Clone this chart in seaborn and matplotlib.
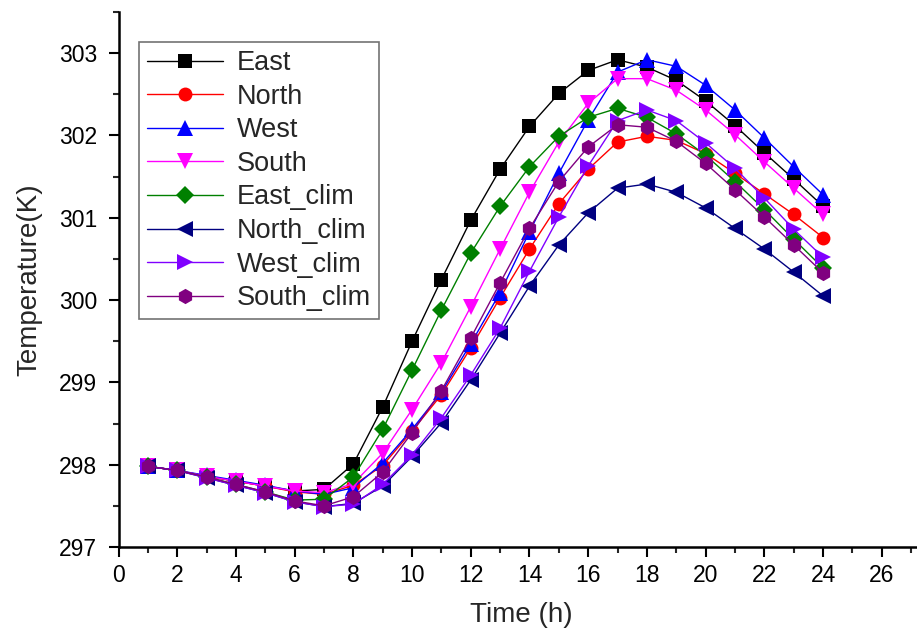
import matplotlib
matplotlib.use("Agg")
import matplotlib.pyplot as plt
import seaborn as sns
import numpy as np
import pandas as pd
from matplotlib.ticker import MultipleLocator

hours = list(range(1, 25))

east = [297.98, 297.93, 297.86, 297.80, 297.74, 297.68, 297.70, 298.01, 298.70, 299.50, 300.25, 300.97,
        301.59, 302.11, 302.51, 302.79, 302.92, 302.83, 302.67, 302.42, 302.12, 301.79, 301.47, 301.14]
north = [297.98, 297.93, 297.86, 297.80, 297.74, 297.67, 297.64, 297.75, 297.99, 298.41, 298.85, 299.42,
         300.03, 300.62, 301.17, 301.59, 301.92, 301.99, 301.94, 301.78, 301.54, 301.29, 301.04, 300.76]
west = [297.98, 297.93, 297.87, 297.81, 297.75, 297.68, 297.64, 297.72, 298.02, 298.43, 298.88, 299.47,
        300.09, 300.83, 301.54, 302.19, 302.77, 302.92, 302.84, 302.61, 302.31, 301.97, 301.62, 301.28]
south = [297.98, 297.93, 297.86, 297.80, 297.74, 297.68, 297.66, 297.77, 298.14, 298.67, 299.24, 299.92,
         300.62, 301.31, 301.92, 302.39, 302.69, 302.69, 302.55, 302.31, 302.01, 301.68, 301.36, 301.04]
east_clim = [297.98, 297.93, 297.85, 297.76, 297.67, 297.57, 297.58, 297.85, 298.43, 299.15, 299.88, 300.57,
             301.14, 301.62, 301.99, 302.22, 302.33, 302.22, 302.02, 301.76, 301.44, 301.10, 300.74, 300.39]
north_clim = [297.98, 297.93, 297.84, 297.75, 297.66, 297.55, 297.49, 297.53, 297.74, 298.10, 298.51, 299.03,
              299.60, 300.17, 300.67, 301.06, 301.36, 301.41, 301.31, 301.12, 300.87, 300.62, 300.34, 300.05]
west_clim = [297.98, 297.93, 297.84, 297.75, 297.66, 297.55, 297.49, 297.52, 297.76, 298.12, 298.57, 299.09,
             299.66, 300.35, 301.01, 301.63, 302.18, 302.31, 302.18, 301.91, 301.60, 301.24, 300.86, 300.52]
south_clim = [297.98, 297.93, 297.85, 297.76, 297.67, 297.56, 297.50, 297.61, 297.91, 298.39, 298.90, 299.54,
              300.21, 300.87, 301.44, 301.86, 302.13, 302.10, 301.93, 301.66, 301.34, 301.01, 300.67, 300.33]

names = ["East", "North", "West", "South", "East_clim", "North_clim", "West_clim", "South_clim"]
series = [east, north, west, south, east_clim, north_clim, west_clim, south_clim]
colors = ["#000000", "#FF0000", "#0000FF", "#FF00FF", "#008000", "#000080", "#8000FF", "#800080"]
markers = ["s", "o", "^", "v", "D", "<", ">", "h"]
msizes = [9.5, 10, 11.5, 11.5, 9, 11.5, 11.5, 11]

x_ticks = [0, 2, 4, 6, 8, 10, 12, 14, 16, 18, 20, 22, 24, 26]
y_ticks = [297, 298, 299, 300, 301, 302, 303]

sns.set_style("ticks")
plt.rcParams["font.family"] = ["Liberation Sans", "DejaVu Sans"]

fig = plt.figure(figsize=(9.17, 6.37), dpi=100)
W, H = 917, 637
left, right, bottom, top = 118.5, 917, 547, 12
ax = fig.add_axes([left / W, (H - bottom) / H, (right - left) / W, (bottom - top) / H])

for name, vals, c, m, ms in zip(names, series, colors, markers, msizes):
    df = pd.DataFrame({"Time": hours, "T": vals})
    sns.lineplot(data=df, x="Time", y="T", ax=ax, color=c, marker=m, markersize=ms,
                 markeredgewidth=0, linewidth=1.0, label=name)

ax.set_xlim(0, 27.2)
ax.set_ylim(297, 303.5)
ax.set_xticks(x_ticks)
ax.set_yticks(y_ticks)
ax.xaxis.set_minor_locator(MultipleLocator(1))
ax.yaxis.set_minor_locator(MultipleLocator(0.5))
ax.tick_params(axis="both", which="major", direction="out", length=7.5, width=1.5,
               labelsize=16.5, colors="black")
ax.tick_params(axis="x", which="major", pad=5)
ax.tick_params(axis="y", which="major", pad=8)
ax.tick_params(axis="both", which="minor", direction="out", length=4, width=1.5)
for s in ["top", "right"]:
    ax.spines[s].set_visible(False)
for s in ["left", "bottom"]:
    ax.spines[s].set_linewidth(1.8)
    ax.spines[s].set_color("black")

ax.set_xlabel("Time (h)", fontsize=20)
ax.set_ylabel("Temperature(K)", fontsize=20)
ax.xaxis.set_label_coords(0.505, -0.102)
ax.yaxis.set_label_coords(-0.095, 0.5)

leg = ax.legend(loc="upper left", bbox_to_anchor=((139 - left) / (right - left), (bottom - 42) / (bottom - top)),
                borderaxespad=0, fontsize=19.5, handlelength=2.8, handletextpad=0.5,
                labelspacing=0.28, borderpad=0.3, frameon=True, fancybox=False,
                edgecolor="#505050")
leg.get_frame().set_linewidth(1.2)

fig.savefig("out.png", dpi=100)
